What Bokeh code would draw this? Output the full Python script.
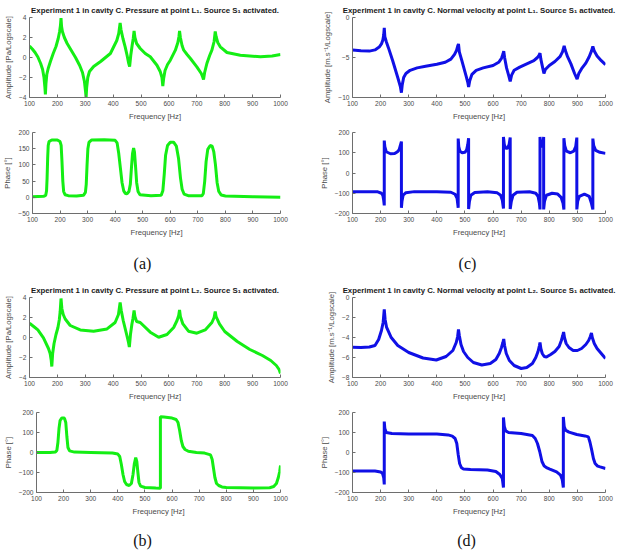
from bokeh.plotting import figure
from bokeh.layouts import column, row
from bokeh.models import Label
from bokeh.embed import file_html
from bokeh.resources import INLINE

# ---------------------------------------------------------------- data
freq_ticks = [100, 200, 300, 400, 500, 600, 700, 800, 900, 1000]

# (a) pressure at L1 -- amplitude (log scale) and phase
a_amp_f = [100, 110, 120, 130, 140, 147, 152, 155, 157, 159, 162, 167, 175, 185, 195, 203, 208, 211, 213,
           215, 218, 225, 235, 250, 265, 280, 290, 297, 301, 303, 305, 309, 315, 330, 355, 390, 413, 420, 425,
           428, 435, 443, 450, 455, 459, 463, 468, 472, 475, 478, 484, 497, 515, 533, 557, 569, 575, 578,
           581, 586, 595, 605, 623, 632, 636, 638, 641, 647, 653, 665, 677, 700, 716, 721, 724, 728, 736,
           746, 754, 762, 766, 769, 775, 784, 808, 856, 928, 970, 1000]
a_amp_v = [1.15, 0.85, 0.5, 0.05, -0.6, -1.2, -2.0, -2.9, -3.7, -2.6, -1.7, -1.1, -0.4, 0.4, 1.1, 1.9, 2.6, 3.2, 3.95,
           3.1, 2.6, 2.0, 1.4, 0.7, 0.0, -0.8, -1.5, -2.4, -3.4, -4.0, -3.0, -2.0, -1.4, -0.9, -0.4, 0.4, 1.7, 2.4, 3.45,
           2.8, 1.9, 1.07, 0.2, -0.5, -0.9, 0.2, 1.2, 1.9, 2.65, 2.0, 1.4, 0.9, 0.4, 0.07, -0.77, -1.43, -2.0, -2.85,
           -2.1, -1.3, -0.7, -0.27, 0.73, 1.5, 2.1, 2.65, 2.0, 1.2, 0.73, 0.3, -0.1, -0.93, -1.6, -1.95, -2.2, -1.5, -0.6,
           0.2, 0.73, 1.6, 2.6, 2.1, 1.5, 1.07, 0.5, 0.23, 0.07, 0.15, 0.3]

a_ph_f = [100, 140, 148, 151, 153, 155, 157, 160, 170, 190, 200, 204, 207, 210, 213, 218, 230, 260, 285, 292,
          295, 298, 301, 305, 315, 360, 400, 407, 413, 419, 425, 431, 437, 443, 450, 455, 459, 463, 467, 470,
          474, 478, 483, 490, 530, 567, 573, 578, 583, 590, 600, 612, 622, 630, 637, 643, 650, 665, 715, 720,
          725, 730, 736, 745, 752, 758, 764, 770, 776, 785, 800, 900, 1000]
a_ph_v = [2, 3, 6, 20, 60, 120, 160, 172, 177, 177, 172, 160, 110, 50, 18, 8, 5, 4, 6, 15,
          40, 100, 150, 170, 177, 178, 176, 168, 135, 90, 45, 20, 12, 11, 18, 40, 90, 135, 152, 140,
          95, 45, 18, 8, 5, 6, 20, 70, 130, 160, 170, 170, 158, 120, 60, 25, 10, 5, 5, 12,
          50, 110, 148, 160, 158, 140, 100, 45, 18, 7, 4, 2, 0]

# (c) normal velocity at L1 -- amplitude (log scale) and phase
c_amp_f = [100, 130, 160, 180, 195, 203, 208, 211, 213, 215, 220, 228, 243, 261, 270, 274, 277, 282, 290, 305,
           330, 360, 400, 430, 450, 463, 470, 474, 477, 480, 489, 504, 510, 513, 517, 525, 540, 565, 600, 620,
           630, 635, 638, 641, 648, 656, 661, 666, 675, 695, 720, 745, 758, 764, 767, 770, 776, 781, 786, 800,
           820, 838, 847, 853, 857, 865, 877, 890, 899, 905, 915, 930, 942, 950, 955, 960, 970, 985, 1000]
c_amp_v = [-4.05, -4.15, -4.2, -4.05, -3.7, -3.3, -2.8, -2.2, -1.3, -2.4, -3.0, -3.8, -5.4, -7.5, -8.6, -9.4, -8.4, -7.5, -7.0, -6.6,
           -6.3, -6.1, -5.85, -5.6, -5.2, -4.6, -4.1, -3.6, -3.3, -4.3, -5.4, -7.3, -8.1, -8.7, -7.9, -7.1, -6.6, -6.3, -6.0, -5.6,
           -5.1, -4.6, -4.2, -5.0, -6.3, -7.3, -8.0, -7.2, -6.6, -6.2, -5.8, -5.4, -5.0, -4.7, -4.45, -5.2, -6.2, -7.0, -6.5, -6.0,
           -5.5, -4.9, -4.3, -3.55, -4.1, -4.9, -5.8, -7.0, -7.7, -7.0, -6.4, -5.7, -4.9, -4.2, -3.6, -4.2, -4.8, -5.4, -5.9]

c_ph_f = [100, 190, 203, 208, 211, 213, 213, 215, 220, 235, 250, 260, 266, 270, 274, 274, 276, 280, 290, 320,
          400, 450, 465, 472, 476, 476, 478, 482, 490, 500, 506, 510, 513, 513, 516, 521, 535, 580, 615, 627,
          633, 637, 637, 640, 645, 651, 657, 661, 661, 665, 671, 685, 730, 752, 760, 765, 767, 767, 770, 774,
          778, 780, 780, 783, 790, 810, 830, 842, 849, 852, 852, 855, 861, 875, 887, 894, 898, 898, 901, 907,
          925, 942, 950, 955, 955, 958, 965, 980, 1000]
c_ph_v = [-92, -93, -100, -110, -135, -160, 160, 130, 105, 95, 96, 105, 115, 135, 155, -172, -140, -110, -97, -92,
          -92, -95, -105, -125, -172, 170, 130, 108, 100, 102, 115, 140, 172, -178, -140, -110, -96, -93, -98, -110,
          -135, -175, 178, 140, 122, 122, 140, 175, -178, -140, -110, -95, -93, -100, -115, -150, -180, 178, 140, 128,
          145, 178, -180, -140, -110, -100, -104, -120, -150, -180, 172, 135, 108, 100, 108, 130, 175, -180, -140, -115,
          -104, -115, -150, -180, 170, 135, 112, 102, 97]

# (b) pressure at L2 -- amplitude (log scale) and phase
b_amp_f = [100, 115, 130, 150, 168, 174, 178, 180, 183, 188, 195, 202, 207, 210, 213, 216, 221, 228, 246, 282,
           330, 378, 407, 419, 425, 429, 436, 443, 450, 455, 458, 462, 467, 471, 475, 478, 484, 497, 533, 563,
           593, 617, 629, 635, 638, 641, 650, 670, 700, 730, 754, 762, 766, 769, 781, 800, 845, 890, 935, 965,
           985, 995, 1000]
b_amp_v = [1.42, 1.1, 0.76, -0.03, -1.1, -1.6, -2.3, -2.9, -1.6, -0.6, 0.3, 1.0, 1.8, 2.6, 3.9, 2.9, 2.3, 1.85, 1.2, 0.76,
           0.63, 0.86, 1.5, 2.3, 3.5, 2.7, 1.7, 0.9, 0.1, -0.5, -0.95, 0.3, 1.3, 1.9, 2.7, 2.1, 1.6, 1.5, 0.53, 0.03,
           0.3, 1.0, 1.7, 2.2, 2.75, 2.1, 1.36, 0.63, 0.43, 0.76, 1.5, 2.0, 2.6, 2.1, 1.36, 0.6, -0.4, -1.2, -1.8, -2.3,
           -2.8, -3.2, -3.6]

b_ph_f = [100, 150, 170, 175, 179, 183, 187, 193, 203, 208, 212, 216, 222, 240, 300, 380, 400, 407, 413, 419,
          425, 432, 442, 450, 456, 461, 466, 470, 474, 478, 484, 500, 540, 557, 557, 570, 600, 615, 622, 628,
          634, 640, 648, 660, 690, 720, 742, 748, 753, 758, 764, 772, 784, 800, 900, 960, 975, 985, 992, 997,
          1000]
b_ph_v = [0, 0, 3, 10, 50, 120, 160, 172, 172, 150, 80, 25, 8, 2, 0, -3, -8, -20, -60, -110,
          -145, -160, -165, -155, -110, -55, -26, -45, -100, -150, -168, -175, -178, -179, 179, 177, 172, 165, 150, 110,
          60, 30, 15, 6, 0, -3, -12, -35, -80, -125, -155, -165, -172, -175, -178, -176, -170, -155, -125, -95,
          -65]

# (d) normal velocity at L2 -- amplitude (log scale) and phase
d_amp_f = [100, 130, 160, 180, 193, 203, 209, 213, 216, 221, 237, 261, 300, 351, 398, 433, 457, 469, 474, 477,
           480, 486, 495, 510, 530, 560, 590, 610, 622, 630, 635, 638, 641, 647, 658, 675, 700, 720, 740, 752,
           760, 765, 767, 770, 775, 782, 790, 805, 820, 835, 843, 848, 851, 854, 860, 870, 885, 900, 915, 930,
           940, 946, 950, 953, 960, 970, 985, 1000]
d_amp_v = [-4.97, -5.0, -4.95, -4.8, -4.2, -3.3, -2.5, -1.2, -2.2, -2.96, -3.97, -4.8, -5.5, -6.05, -6.25, -5.9, -5.3, -4.5, -3.9, -3.2,
           -3.8, -4.7, -5.4, -6.0, -6.5, -6.75, -6.6, -6.2, -5.6, -5.0, -4.5, -4.15, -4.8, -5.6, -6.3, -6.8, -7.1, -7.0, -6.6, -6.0,
           -5.4, -4.8, -4.5, -5.1, -5.6, -5.9, -5.95, -5.7, -5.4, -4.9, -4.3, -3.8, -3.45, -4.0, -4.6, -5.0, -5.3, -5.3, -5.1, -4.7,
           -4.3, -3.9, -3.55, -4.0, -4.6, -5.1, -5.6, -6.1]

d_ph_f = [100, 180, 200, 207, 211, 213, 213, 215, 220, 240, 300, 400, 440, 455, 465, 471, 476, 481, 487, 495,
          520, 580, 610, 624, 633, 637, 637, 640, 645, 655, 700, 740, 750, 758, 766, 774, 782, 792, 802, 826,
          840, 846, 850, 850, 853, 858, 870, 898, 927, 939, 945, 951, 957, 963, 972, 981, 1000]
d_ph_v = [-92, -93, -97, -105, -125, -160, 155, 120, 100, 95, 93, 92, 88, 82, 70, 45, -10, -55, -75, -83,
          -85, -88, -95, -110, -130, -175, 175, 130, 108, 100, 95, 85, 70, 45, 5, -45, -68, -77, -83, -97,
          -113, -135, -175, 178, 130, 112, 102, 90, 83, 78, 50, 12, -30, -55, -68, -72, -80]

GREEN = "#14EE14"
BLUE = "#1010E6"
AXIS_GREY = "#6e6e6e"
TEXT_GREY = "#4a4a4a"
SANS = "Liberation Sans"

LEFT_W, RIGHT_W = 310, 315
LEFT_BORDERS = (29, 30)     # left / right border of left-column plots
RIGHT_BORDERS = (42, 20)    # left / right border of right-column plots


def panel(freq, vals, color, ylabel, yrange, yticks, width, lr, height, top, bottom, title=None):
    p = figure(width=width, height=height, x_range=(100, 1000), y_range=yrange,
               output_backend="svg", toolbar_location=None, title=title,
               min_border_left=lr[0], min_border_right=lr[1],
               min_border_top=top, min_border_bottom=bottom)
    p.line(freq, vals, line_color=color, line_width=3)
    p.grid.visible = False
    p.outline_line_color = None
    p.background_fill_color = "white"
    p.border_fill_color = "white"
    p.xaxis.ticker = freq_ticks
    p.yaxis.ticker = yticks
    p.xaxis.axis_label = "Frequency [Hz]"
    p.yaxis.axis_label = ylabel
    for ax in (p.xaxis[0], p.yaxis[0]):
        ax.axis_line_color = AXIS_GREY
        ax.axis_line_width = 1
        ax.major_tick_line_color = AXIS_GREY
        ax.major_tick_in = 3
        ax.major_tick_out = 0
        ax.minor_tick_line_color = None
        ax.major_label_text_font = SANS
        ax.major_label_text_font_size = "6.6px"
        ax.major_label_text_color = TEXT_GREY
        ax.major_label_standoff = 3
        ax.axis_label_text_font = SANS
        ax.axis_label_text_font_size = "7.7px"
        ax.axis_label_text_font_style = "normal"
        ax.axis_label_text_color = TEXT_GREY
        ax.axis_label_standoff = 3
    if title is not None:
        p.title.text_font = SANS
        p.title.text_font_size = "7.8px"
        p.title.text_font_style = "bold"
        p.title.text_color = "#1a1a1a"
        p.title.align = "center"
        p.title.standoff = 5
    return p


def caption(text, width, height, cx):
    p = figure(width=width, height=height, x_range=(0, width), y_range=(0, height),
               output_backend="svg", toolbar_location=None, title=None,
               x_axis_type=None, y_axis_type=None, min_border=0)
    p.grid.visible = False
    p.outline_line_color = None
    p.add_layout(Label(x=cx, y=height / 2, text=text, text_align="center", text_baseline="middle",
                       text_font="Liberation Serif", text_font_size="16px", text_color="#111111"))
    return p


amp_ticks4 = [-4, -2, 0, 2, 4]
ph_ticks = [-200, -100, 0, 100, 200]
AMP_P = "Amplitude [Pa/Logscale]"
AMP_V = "Amplitude [m.s\u207b\u00b9/Logscale]"
PHASE = "Phase [\u00b0]"

fa1 = panel(a_amp_f, a_amp_v, GREEN, AMP_P, (-4, 4), amp_ticks4, LEFT_W, LEFT_BORDERS, 125, 17, 28,
            title="Experiment 1 in cavity C. Pressure at point L\u2081. Source S\u2081 activated.")
fa2 = panel(a_ph_f, a_ph_v, GREEN, PHASE, (-50, 200), [-50, 0, 50, 100, 150, 200], LEFT_W, LEFT_BORDERS, 120, 7, 32)
fc1 = panel(c_amp_f, c_amp_v, BLUE, AMP_V, (-10, 0), [-10, -5, 0], RIGHT_W, RIGHT_BORDERS, 125, 17, 28,
            title="Experiment 1 in cavity C. Normal velocity at point L\u2081. Source S\u2081 activated.")
fc2 = panel(c_ph_f, c_ph_v, BLUE, PHASE, (-200, 200), ph_ticks, RIGHT_W, RIGHT_BORDERS, 120, 7, 32)

fb1 = panel(b_amp_f, b_amp_v, GREEN, AMP_P, (-4, 4), amp_ticks4, LEFT_W, LEFT_BORDERS, 125, 17, 28,
            title="Experiment 1 in cavity C. Pressure at point L\u2082. Source S\u2081 activated.")
fb2 = panel(b_ph_f, b_ph_v, GREEN, PHASE, (-200, 200), ph_ticks, LEFT_W, LEFT_BORDERS, 115, 7, 28)
fd1 = panel(d_amp_f, d_amp_v, BLUE, AMP_V, (-8, 0), [-8, -6, -4, -2, 0], RIGHT_W, RIGHT_BORDERS, 125, 17, 28,
            title="Experiment 1 in cavity C. Normal velocity at point L\u2082. Source S\u2081 activated.")
fd2 = panel(d_ph_f, d_ph_v, BLUE, PHASE, (-200, 200), ph_ticks, RIGHT_W, RIGHT_BORDERS, 115, 7, 28)

cap_a = caption("(a)", LEFT_W, 35, 142)
cap_c = caption("(c)", RIGHT_W, 35, 157)
cap_b = caption("(b)", LEFT_W, 40, 142)
cap_d = caption("(d)", RIGHT_W, 40, 156)

layout = column(
    row(fa1, fc1),
    row(fa2, fc2),
    row(cap_a, cap_c),
    row(fb1, fd1),
    row(fb2, fd2),
    row(cap_b, cap_d),
)

open("out.html", "w").write(file_html(layout, INLINE))
